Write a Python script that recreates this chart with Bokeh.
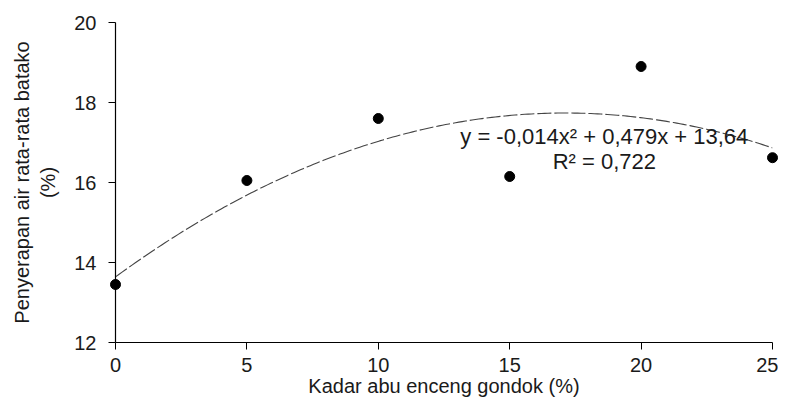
from bokeh.plotting import figure
from bokeh.models import Range1d, FixedTicker, Label
from bokeh.embed import file_html
from bokeh.resources import INLINE
import numpy as np

# data
kadar_abu = [0, 5, 10, 15, 20, 25]
penyerapan = [13.45, 16.05, 17.6, 16.15, 18.9, 16.62]

# trendline coefficients as printed on the chart
coef_a = -0.014
coef_b = 0.479
coef_c = 13.64
eq_text = "y = -0,014x² + 0,479x + 13,64"
r2_text = "R² = 0,722"

x_ticks = [0, 5, 10, 15, 20, 25]
y_ticks = [12, 14, 16, 18, 20]

FONT = "Liberation Sans"
TXT = "#1a1a1a"

p = figure(width=778, height=404, output_backend="svg", toolbar_location=None,
           x_range=Range1d(0, 25), y_range=Range1d(12, 20),
           min_border_left=115, min_border_right=6, min_border_top=22, min_border_bottom=62)
p.outline_line_color = None
p.xgrid.grid_line_color = None
p.ygrid.grid_line_color = None
p.background_fill_color = "white"
p.border_fill_color = "white"

xs = np.linspace(0, 25, 200)
ys = coef_a * xs ** 2 + coef_b * xs + coef_c
p.line(xs, ys, line_color="#444444", line_width=1.1, line_dash="14 3")
p.scatter(kadar_abu, penyerapan, size=10, color="black", level="overlay")

for ax in (p.xaxis, p.yaxis):
    ax.axis_line_color = "black"
    ax.axis_line_width = 1.2
    ax.major_tick_line_color = "black"
    ax.major_tick_out = 7
    ax.major_tick_in = 0
    ax.minor_tick_line_color = None
    ax.major_label_text_font = FONT
    ax.major_label_text_font_size = "20px"
    ax.major_label_text_color = TXT
    ax.axis_label_text_font = FONT
    ax.axis_label_text_font_size = "20px"
    ax.axis_label_text_font_style = "normal"
    ax.axis_label_text_color = TXT

p.xaxis.ticker = FixedTicker(ticks=x_ticks)
p.yaxis.ticker = FixedTicker(ticks=y_ticks)
p.xaxis.major_label_standoff = 8
p.yaxis.major_label_standoff = 12
p.xaxis.axis_label = "Kadar abu enceng gondok (%)"
p.yaxis.axis_label = "Penyerapan air rata-rata batako\n(%)"
p.xaxis.axis_label_standoff = 0
p.yaxis.axis_label_standoff = 12

p.add_layout(Label(x=18.6, y=17.15, text=eq_text, text_align="center", text_baseline="alphabetic",
                   text_font=FONT, text_font_size="22px", text_color=TXT))
p.add_layout(Label(x=18.6, y=16.52, text=r2_text, text_align="center", text_baseline="alphabetic",
                   text_font=FONT, text_font_size="22px", text_color=TXT))

open("out.html", "w").write(file_html(p, INLINE))
